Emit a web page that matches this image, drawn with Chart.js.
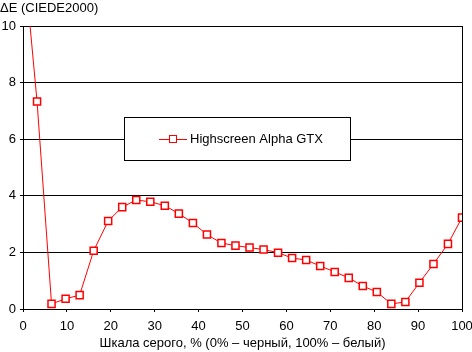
<!DOCTYPE html>
<html>
<head>
<meta charset="utf-8">
<script src="https://cdn.jsdelivr.net/npm/chart.js@4/dist/chart.umd.min.js"></script>
<style>
	html, body { margin: 0; padding: 0; background: #fff; }
	#wrap { width: 472px; height: 352px; }
</style>
</head>
<body>
<div id="wrap"><canvas id="chart" width="472" height="352"></canvas></div>
<script>
const seriesName = 'Highscreen Alpha GTX';
const yTitle = 'ΔE (CIEDE2000)';
const xTitle = 'Шкала серого, % (0% – черный, 100% – белый)';

// Gray levels, % (32 steps)
const grayLevels = [
	0, 3.2, 6.5, 9.7, 12.9, 16.1, 19.4, 22.6, 25.8, 29.0, 32.3,
	35.5, 38.7, 41.9, 45.2, 48.4, 51.6, 54.8, 58.1, 61.3, 64.5,
	67.7, 71.0, 74.2, 77.4, 80.6, 83.9, 87.1, 90.3, 93.5, 96.8, 100
];
const deltaE = [
	12.7, 7.33, 0.18, 0.36, 0.49, 2.06, 3.11, 3.60, 3.85, 3.79, 3.65,
	3.37, 3.04, 2.63, 2.33, 2.24, 2.17, 2.10, 1.99, 1.80, 1.73,
	1.52, 1.31, 1.10, 0.81, 0.60, 0.18, 0.25, 0.93, 1.59, 2.30, 3.23
];

const font = 'Liberation Sans, Arial, sans-serif';

// Titles and the boxed legend are drawn by hand
const decor = {
	id: 'decor',
	afterDatasetsDraw( chart ) {
		const ctx = chart.ctx;
		ctx.save();
		ctx.fillStyle = '#000';
		ctx.font = '13px ' + font;
		ctx.textBaseline = 'middle';
		ctx.textAlign = 'left';
		ctx.fillText( yTitle, 0, 8 );
		ctx.textAlign = 'center';
		const a = chart.chartArea;
		ctx.fillText( xTitle, ( a.left + a.right ) / 2, 343 );

		// legend box
		ctx.fillStyle = '#fff';
		ctx.fillRect( 124, 117, 226, 43 );
		ctx.strokeStyle = '#000';
		ctx.lineWidth = 1;
		ctx.strokeRect( 124.5, 117.5, 226, 43 );
		ctx.strokeStyle = '#ff0000';
		ctx.beginPath();
		ctx.moveTo( 159, 139.5 );
		ctx.lineTo( 187, 139.5 );
		ctx.stroke();
		ctx.fillStyle = '#fff';
		ctx.fillRect( 169.5, 135.5, 7, 7 );
		ctx.strokeRect( 169.5, 135.5, 7, 7 );
		ctx.fillStyle = '#000';
		ctx.textAlign = 'left';
		ctx.fillText( seriesName, 190, 139 );
		ctx.restore();
	}
};

new Chart( document.getElementById( 'chart' ), {
	type: 'line',
	data: {
		datasets: [
			{
				label: seriesName,
				data: grayLevels.map( ( x, i ) => ( { x: x, y: deltaE[ i ] } ) ),
				borderColor: '#ff0000',
				borderWidth: 1,
				backgroundColor: '#ffffff',
				pointStyle: 'rect',
				pointRadius: 5,
				pointBorderWidth: 1.5,
				pointBorderColor: '#ff0000',
				pointBackgroundColor: '#ffffff',
				tension: 0,
			}
		],
	},
	options: {
		responsive: false,
		animation: false,
		layout: { padding: { top: 26, right: 0, left: 0, bottom: 0 } },
		plugins: {
			legend: { display: false },
			tooltip: { enabled: false },
		},
		scales: {
			x: {
				type: 'linear',
				min: 0,
				max: 100,
				afterFit: ( s ) => {
					s.height = 43;
					s.paddingRight = 10;
					s.paddingLeft = 0;
				},
				ticks: {
					stepSize: 10,
					color: '#000',
					font: { family: font, size: 13 },
					padding: 7,
					maxRotation: 0,
				},
				grid: {
					color: ( c ) => ( c.tick && c.tick.value === 100 ? '#000' : 'rgba(0,0,0,0)' ),
					tickColor: '#000',
					tickLength: 3,
					drawOnChartArea: true,
				},
				border: { display: true, color: '#000' },
			},
			y: {
				min: 0,
				max: 10,
				afterFit: ( s ) => { s.width = 23; },
				ticks: {
					stepSize: 2,
					color: '#000',
					font: { family: font, size: 13 },
					padding: 4,
				},
				grid: {
					color: '#000',
					tickColor: '#000',
					tickLength: 3,
				},
				border: { display: true, color: '#000' },
			}
		}
	},
	plugins: [ decor ],
} );
</script>
</body>
</html>
